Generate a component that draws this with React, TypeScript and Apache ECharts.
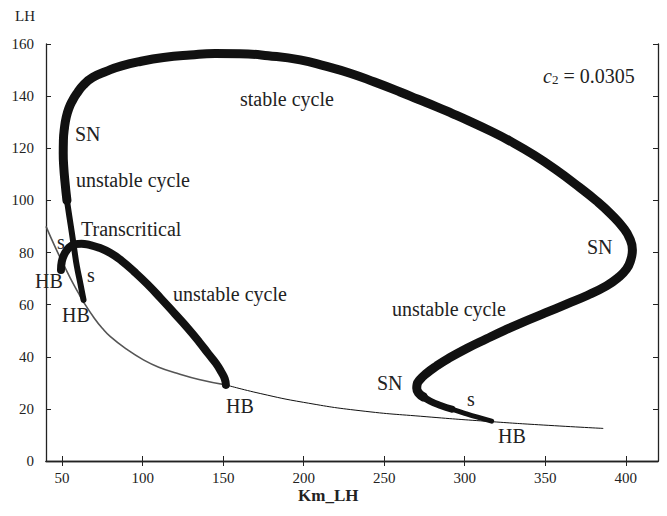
import React, { useEffect, useRef } from "react";
import * as echarts from "echarts";

const xTicks = [50, 100, 150, 200, 250, 300, 350, 400];
const yTicks = [0, 20, 40, 60, 80, 100, 120, 140, 160];

// equilibrium branch (thin)
const thinLeft = [
  [40, 90], [45, 83], [50, 76.5], [55, 70.3], [60, 64.6], [63.3, 61], [70, 54.8], [75, 50.9],
  [80, 47.7], [90, 42.9], [100.5, 38.8], [110, 36], [121.3, 33.7], [135, 31.3], [151.7, 29.2],
];
const thinRight = [
  [151.7, 29.2], [173, 25.9], [200, 22.5], [235, 19.3], [276, 17], [316.7, 15.1], [348.7, 13.8], [386, 12.5],
];

// big cycle branch
const leftBranch = [
  [63.3, 61.8], [61.3, 68.2], [59.2, 74.6], [57.6, 81], [56.1, 87.4], [54.5, 93.8], [53, 100],
];
const bigLoop = [
  [53, 100], [51.8, 107], [51, 113], [50.7, 118], [50.8, 123], [51.5, 128], [52.6, 132], [54.2, 135.3],
  [56.1, 137.9], [59, 140.9], [63.3, 144.3], [69, 147.2], [77.8, 149.6], [87, 151.6], [98.5, 153.3],
  [113, 154.8], [129.5, 155.8], [145, 156.4], [160.5, 156.3], [178, 155.5], [197.8, 153.9], [213, 151.6],
  [228.8, 148.8], [244, 145.4], [259.9, 141.6], [271, 138.8], [282.6, 135.9], [292, 133.4], [302.2, 130.6],
  [316, 126.6], [328, 122.8], [343, 117.4], [357, 111.6], [370, 105.6], [381.8, 99.8], [391, 94.6],
  [398.3, 89.6], [402.5, 85.3], [404.1, 81], [403, 77], [400.4, 73.6], [395, 70.2], [388, 67.2],
  [376, 63.5], [363.2, 60.2], [350, 56.8], [336.3, 53.3], [325, 50.2], [313.6, 46.9], [301.2, 43.2],
  [290, 39.4], [282.6, 36.5], [276, 33.5], [272.2, 31.2], [270.4, 29.3], [270.2, 27.9], [271.5, 26],
  [274.3, 24.6],
];
const lowerTailA = [
  [274.3, 24.6], [278.5, 23], [285, 21.3], [292, 19.9],
];
const lowerTailB = [
  [292, 19.9], [300, 18.3], [308, 16.8], [316.7, 15.3],
];

// small cycle branch
const smallArc = [
  [49.3, 73.3], [49.8, 76.5], [51.5, 79.5], [54.5, 82], [58, 83.2], [62, 83.4], [67, 82.9], [73, 81.8],
  [80, 79.8], [87, 76.8], [95, 72.5], [103, 67.8], [111, 62.6], [120, 56.5], [128, 51], [135, 45.8],
  [141, 41], [145.5, 37.5], [149, 34], [151, 31.5], [151.7, 29.2],
];

const annotations: [string, number, number][] = [
  ["stable cycle", 240, 100],
  ["SN", 75, 135],
  ["unstable cycle", 76, 181],
  ["Transcritical", 81, 230],
  ["s", 57, 243],
  ["s", 87, 276],
  ["HB", 35, 282],
  ["HB", 62, 316],
  ["unstable cycle", 173, 295],
  ["HB", 226, 407],
  ["SN", 587, 248],
  ["unstable cycle", 392, 310],
  ["SN", 377, 384],
  ["s", 467, 400],
  ["HB", 498, 437],
];

const SERIF = "'Liberation Serif', 'Times New Roman', serif";

export default function App() {
  const ref = useRef<HTMLDivElement>(null);
  useEffect(() => {
    if (!ref.current) return;
    const chart = echarts.init(ref.current, null, { renderer: "svg" });
    const axisLine = { show: true, lineStyle: { color: "#222", width: 1.3 } };
    const tick = { show: true, inside: true, length: 5, lineStyle: { color: "#222", width: 1 } };
    const thick = (data: number[][], width: number) => ({
      type: "line",
      data,
      showSymbol: false,
      smooth: 0.5,
      lineStyle: { color: "#111", width, cap: "round", join: "round" },
      z: 3,
    });
    const graphic: any[] = annotations.map(([t, x, y]) => ({
      type: "text",
      left: x,
      top: y - 11,
      style: { text: t, font: `20px ${SERIF}`, fill: "#222" },
    }));
    graphic.push({
      type: "text",
      left: 543,
      top: 66,
      style: {
        text: "{c|c}{s|2}{n| = 0.0305}",
        rich: {
          c: { fontFamily: SERIF, fontStyle: "italic", fontSize: 20, fill: "#222", lineHeight: 22, verticalAlign: "bottom" },
          s: { fontFamily: SERIF, fontSize: 13, fill: "#222", lineHeight: 8, verticalAlign: "bottom" },
          n: { fontFamily: SERIF, fontSize: 20, fill: "#222", lineHeight: 22, verticalAlign: "bottom" },
        },
      },
    });
    graphic.push({
      type: "text",
      left: 15,
      top: 8,
      style: { text: "LH", font: `15px ${SERIF}`, fill: "#222" },
    });
    graphic.push({
      type: "text",
      left: 298,
      top: 487,
      style: { text: "Km_LH", font: `bold 17px ${SERIF}`, fill: "#222" },
    });
    chart.setOption({
      animation: false,
      backgroundColor: "#fff",
      grid: { left: 46, right: 9, top: 44, bottom: 55 },
      xAxis: [
        {
          type: "value", min: 40, max: 420, position: "bottom",
          axisLine, axisTick: { ...tick, customValues: xTicks },
          axisLabel: { customValues: xTicks, fontFamily: SERIF, fontSize: 15, color: "#222", margin: 9 },
          splitLine: { show: false },
        },
        {
          type: "value", min: 40, max: 420, position: "top",
          axisLine, axisTick: { ...tick, customValues: xTicks },
          axisLabel: { show: false }, splitLine: { show: false },
        },
      ],
      yAxis: [
        {
          type: "value", min: 0, max: 160, interval: 20, position: "left",
          axisLine, axisTick: tick,
          axisLabel: { fontFamily: SERIF, fontSize: 15, color: "#222", margin: 12 },
          splitLine: { show: false },
        },
        {
          type: "value", min: 0, max: 160, interval: 20, position: "right",
          axisLine, axisTick: tick,
          axisLabel: { show: false }, splitLine: { show: false },
        },
      ],
      series: [
        { type: "line", data: thinLeft, showSymbol: false, smooth: 0.5, lineStyle: { color: "#555", width: 1.6 }, z: 2 },
        { type: "line", data: thinRight, showSymbol: false, smooth: 0.5, lineStyle: { color: "#111", width: 1 }, z: 2 },
        thick(leftBranch, 6),
        thick(bigLoop, 9),
        thick(lowerTailA, 7),
        thick(lowerTailB, 5),
        thick(smallArc, 8),
      ],
      graphic,
    });
    return () => chart.dispose();
  }, []);
  return <div ref={ref} style={{ position: "fixed", left: 0, top: 0, width: 667, height: 516 }} />;
}
